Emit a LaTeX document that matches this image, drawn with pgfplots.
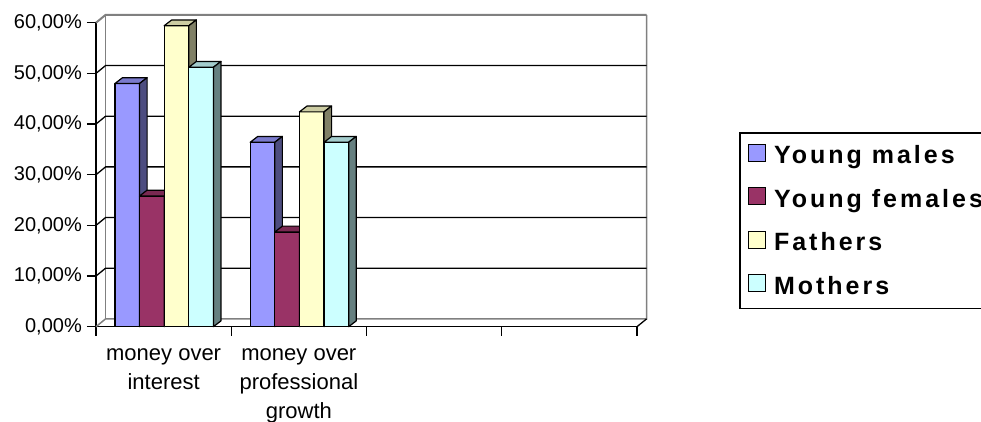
\documentclass[border=0pt]{standalone}
\usepackage{pgfplots}
\pgfplotsset{compat=1.18}
\usepackage{fontspec}
\setmainfont{Liberation Sans}
\newfontfamily\legendfont[LetterSpace=12]{Liberation Sans}

% front / top / side shades of each series
\definecolor{ymF}{HTML}{9999FF}\definecolor{ymT}{HTML}{7A7ACC}\definecolor{ymS}{HTML}{4D4D80}
\definecolor{yfF}{HTML}{993366}\definecolor{yfT}{HTML}{7A2952}\definecolor{yfS}{HTML}{4D1A33}
\definecolor{faF}{HTML}{FFFFCC}\definecolor{faT}{HTML}{CCCCA3}\definecolor{faS}{HTML}{808066}
\definecolor{moF}{HTML}{CCFFFF}\definecolor{moT}{HTML}{A3CCCC}\definecolor{moS}{HTML}{668080}
\definecolor{wallgray}{HTML}{808080}

\newcommand\barw{0.182}% bar width (category units)
\newcommand\bdx{0.056}% bar depth, x
\newcommand\bdy{1.15}% bar depth, y

% #1 left edge, #2 value, #3 front, #4 top, #5 side colour
\newcommand{\cubebar}[5]{%
  \pgfmathsetmacro{\xa}{#1}%
  \pgfmathsetmacro{\xb}{#1+\barw}%
  \pgfmathsetmacro{\xc}{#1+\barw+\bdx}%
  \pgfmathsetmacro{\xd}{#1+\bdx}%
  \pgfmathsetmacro{\yt}{#2+\bdy}%
  \addplot[forget plot, fill=#3, draw=black, line width=1.2pt, line join=round]
    coordinates {(\xa,0) (\xb,0) (\xb,#2) (\xa,#2)} -- cycle;
  \addplot[forget plot, fill=#4, draw=black, line width=1.2pt, line join=round]
    coordinates {(\xa,#2) (\xb,#2) (\xc,\yt) (\xd,\yt)} -- cycle;
  \addplot[forget plot, fill=#5, draw=black, line width=1.2pt, line join=round]
    coordinates {(\xb,0) (\xc,\bdy) (\xc,\yt) (\xb,#2)} -- cycle;
}

\begin{document}
\begin{tikzpicture}
\useasboundingbox (0,0) rectangle (981pt,421pt);
\clip (0,0) rectangle (981pt,421pt);
\begin{axis}[
  at={(96pt,94.3pt)}, anchor=south west,
  scale only axis, width=541pt, height=304pt,
  xmin=0, xmax=4, ymin=0, ymax=60,
  clip=false,
  axis x line*=bottom, axis y line*=left,
  axis line style={-, black, line width=1.3pt},
  tick align=outside, major tick length=9pt,
  tick style={black, line width=1.3pt},
  ytick={0,10,...,60},
  yticklabels={{0,00\%},{10,00\%},{20,00\%},{30,00\%},{40,00\%},{50,00\%},{60,00\%}},
  yticklabel style={font=\fontsize{20}{24}\selectfont, inner sep=5pt},
  xtick={0,1,2,3,4},
  xticklabels={,,,,},
  extra x ticks={0.5,1.5},
  extra x tick labels={{\strut money over\\interest},{\strut money over\\professional\\growth}},
  extra x tick style={major tick length=0pt},
  xticklabel style={align=center, font=\fontsize{22}{29}\selectfont,
    anchor=north, inner sep=0pt, yshift=-13pt},
  legend cell align=left,
  legend style={at={(1.18854,0.64046)}, anchor=north west, draw=black,
    line width=1.6pt, fill=white, inner xsep=8pt, inner ysep=10pt,
    font=\legendfont\bfseries\fontsize{25}{25}\selectfont,
    row sep=18.5pt,
    nodes={inner sep=0pt, text height=21pt, text depth=4pt},
    /tikz/every odd column/.append style={column sep=8pt}},
]
% walls and gridlines
\draw[wallgray, line width=1.5pt] (axis cs:0,0) -- (axis cs:0.071,1.55) -- (axis cs:4.071,1.55) -- (axis cs:4.071,61.55);
\draw[wallgray, line width=1.5pt] (axis cs:0.071,1.55) -- (axis cs:0.071,61.55);
\draw[wallgray, line width=2pt] (axis cs:0,60) -- (axis cs:0.071,61.55) -- (axis cs:4.071,61.55);
\draw[black, line width=1.3pt] (axis cs:4,0) -- (axis cs:4.071,1.55);
\draw[black, line width=1.3pt] (axis cs:0,10) -- (axis cs:0.071,11.55) -- (axis cs:4.071,11.55);
\draw[black, line width=1.3pt] (axis cs:0,20) -- (axis cs:0.071,21.55) -- (axis cs:4.071,21.55);
\draw[black, line width=1.3pt] (axis cs:0,30) -- (axis cs:0.071,31.55) -- (axis cs:4.071,31.55);
\draw[black, line width=1.3pt] (axis cs:0,40) -- (axis cs:0.071,41.55) -- (axis cs:4.071,41.55);
\draw[black, line width=1.3pt] (axis cs:0,50) -- (axis cs:0.071,51.55) -- (axis cs:4.071,51.55);

% money over interest
\cubebar{0.140}{48.0}{ymF}{ymT}{ymS}
\cubebar{0.322}{25.8}{yfF}{yfT}{yfS}
\cubebar{0.504}{59.4}{faF}{faT}{faS}
\cubebar{0.686}{51.2}{moF}{moT}{moS}
% money over professional growth
\cubebar{1.140}{36.4}{ymF}{ymT}{ymS}
\cubebar{1.322}{18.7}{yfF}{yfT}{yfS}
\cubebar{1.504}{42.4}{faF}{faT}{faS}
\cubebar{1.686}{36.4}{moF}{moT}{moS}

\addlegendimage{legend image code/.code={\draw[fill=ymF, draw=black, line width=1.2pt] (0pt,-6pt) rectangle (17pt,11pt);}}
\addlegendentry{Young males}
\addlegendimage{legend image code/.code={\draw[fill=yfF, draw=black, line width=1.2pt] (0pt,-6pt) rectangle (17pt,11pt);}}
\addlegendentry{Young females}
\addlegendimage{legend image code/.code={\draw[fill=faF, draw=black, line width=1.2pt] (0pt,-6pt) rectangle (17pt,11pt);}}
\addlegendentry{Fathers}
\addlegendimage{legend image code/.code={\draw[fill=moF, draw=black, line width=1.2pt] (0pt,-6pt) rectangle (17pt,11pt);}}
\addlegendentry{Mothers}
\end{axis}
\end{tikzpicture}
\end{document}
